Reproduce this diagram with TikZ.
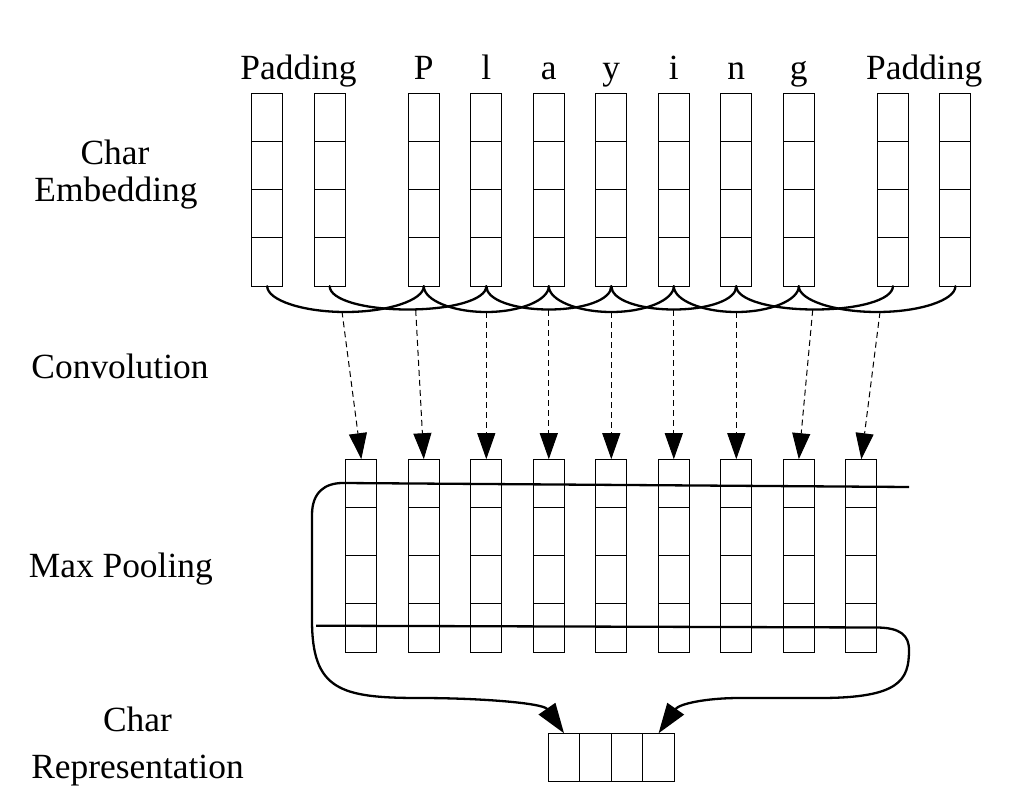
\documentclass[tikz,border=0pt]{standalone}
\usepackage{fontspec}
\setmainfont{Liberation Serif}
\usetikzlibrary{arrows.meta,calc}
\begin{document}
\begin{tikzpicture}[x=1pt,y=-1pt,
  col/.style={draw, line width=1pt, minimum width=31pt, minimum height=193pt, inner sep=0pt, outer sep=0pt},
  cell/.style={draw, line width=1pt, minimum width=31.5pt, minimum height=48pt, inner sep=0pt, outer sep=0pt},
  lbl/.style={font=\fontsize{35.4}{40}\selectfont, anchor=base, inner sep=0pt},
  brace/.style={line width=2.3pt, line cap=round},
  dasharrow/.style={line width=1pt, dash pattern=on 6pt off 4pt, -{Triangle[length=26pt,width=18pt]}},
  poolarrow/.style={line width=2.3pt, line join=round, -{Triangle[length=30pt,width=20pt]}}
]
\useasboundingbox (0,0) rectangle (1011,810);

% top embedding columns
\foreach \n/\x in {1/267.2, 2/329.7, 3/423.8, 4/486.3, 5/548.8, 6/611.3, 7/673.8, 8/736.3, 9/798.8, 10/892.9, 11/955.4}
  \node[col] (t\n) at (\x,189.7) {};
\foreach \n in {1,...,11}
  \foreach \f in {0.25,0.5,0.75}
    \draw[line width=1pt] ($(t\n.north west)!\f!(t\n.south west)$) -- ($(t\n.north east)!\f!(t\n.south east)$);

% convolution output columns
\foreach \n/\x in {1/361.3, 2/423.8, 3/486.3, 4/548.8, 5/611.3, 6/673.8, 7/736.3, 8/798.8, 9/861.3}
  \node[col] (c\n) at (\x,555.7) {};
\foreach \n in {1,...,9}
  \foreach \f in {0.25,0.5,0.75}
    \draw[line width=1pt] ($(c\n.north west)!\f!(c\n.south west)$) -- ($(c\n.north east)!\f!(c\n.south east)$);

% char representation
\foreach \n/\x in {1/564.05, 2/595.55, 3/627.05, 4/658.55}
  \node[cell] (r\n) at (\x,757.3) {};

% labels
\node[lbl] (padL) at (298.5,79.5) {Padding};
\node[lbl] (padR) at (924.2,79.5) {Padding};
\foreach \n/\ch in {3/P, 4/l, 5/a, 6/y, 7/i, 8/n, 9/g}
  \node[lbl] (ch\n) at ($(t\n.north)+(0,-13.8)$) {\ch};
\node[lbl] (lab1a) at (115,165) {Char};
\node[lbl] (lab1b) at (116,201.7) {Embedding};
\node[lbl] (lab2) at (120,378.3) {Convolution};
\node[lbl] (lab3) at (120.8,577.3) {Max Pooling};
\node[lbl] (lab4a) at (137.5,731.7) {Char};
\node[lbl] (lab4b) at (137.5,778.3) {Representation};

% convolution windows (brackets)
\foreach \k/\j/\xa/\xb/\yb in {1/3/267.2/423.8/312, 2/4/329.7/486.3/309.5, 3/5/423.8/548.8/312, 4/6/486.3/611.3/309.5, 5/7/548.8/673.8/312, 6/8/611.3/736.3/309.5, 7/9/673.8/798.8/312, 8/10/736.3/892.9/309.5, 9/11/798.8/955.4/312} {
  \pgfmathsetmacro{\xm}{(\xa+\xb)/2}
  \pgfmathsetmacro{\hh}{0.55*(\xb-\xa)/2}
  \draw[brace] (t\k.south) .. controls (\xa,300) and (\xm-\hh,\yb) .. (\xm,\yb)
     .. controls (\xm+\hh,\yb) and (\xb,300) .. (t\j.south);
}

% dashed arrows
\foreach \k/\x/\y in {1/342/311.5, 2/415.7/310, 3/486.3/312, 4/548.8/310, 5/611.3/312, 6/673.8/310, 7/736.3/312, 8/812.7/310, 9/880/312}
  \coordinate (d\k) at (\x,\y);
\foreach \k in {1,...,9}
  \draw[dasharrow] (d\k) -- (c\k.north);

% max pooling lines
\coordinate (pTop) at (909,487);
\coordinate (pBot) at (316,625.7);
\draw[poolarrow] (pTop) -- (343,483) .. controls (325,483) and (312,492) .. (312,515)
  -- (312,620) .. controls (312,690) and (340,698) .. (420,698)
  .. controls (480,698) and (543,703) .. (r1.north);
\draw[poolarrow] (pBot) -- (878,627.5) .. controls (900,628) and (909,635) .. (909,650)
  .. controls (909,680) and (900,698) .. (820,698) -- (740,698)
  .. controls (705,698) and (679,704) .. (r4.north);
\end{tikzpicture}
\end{document}
